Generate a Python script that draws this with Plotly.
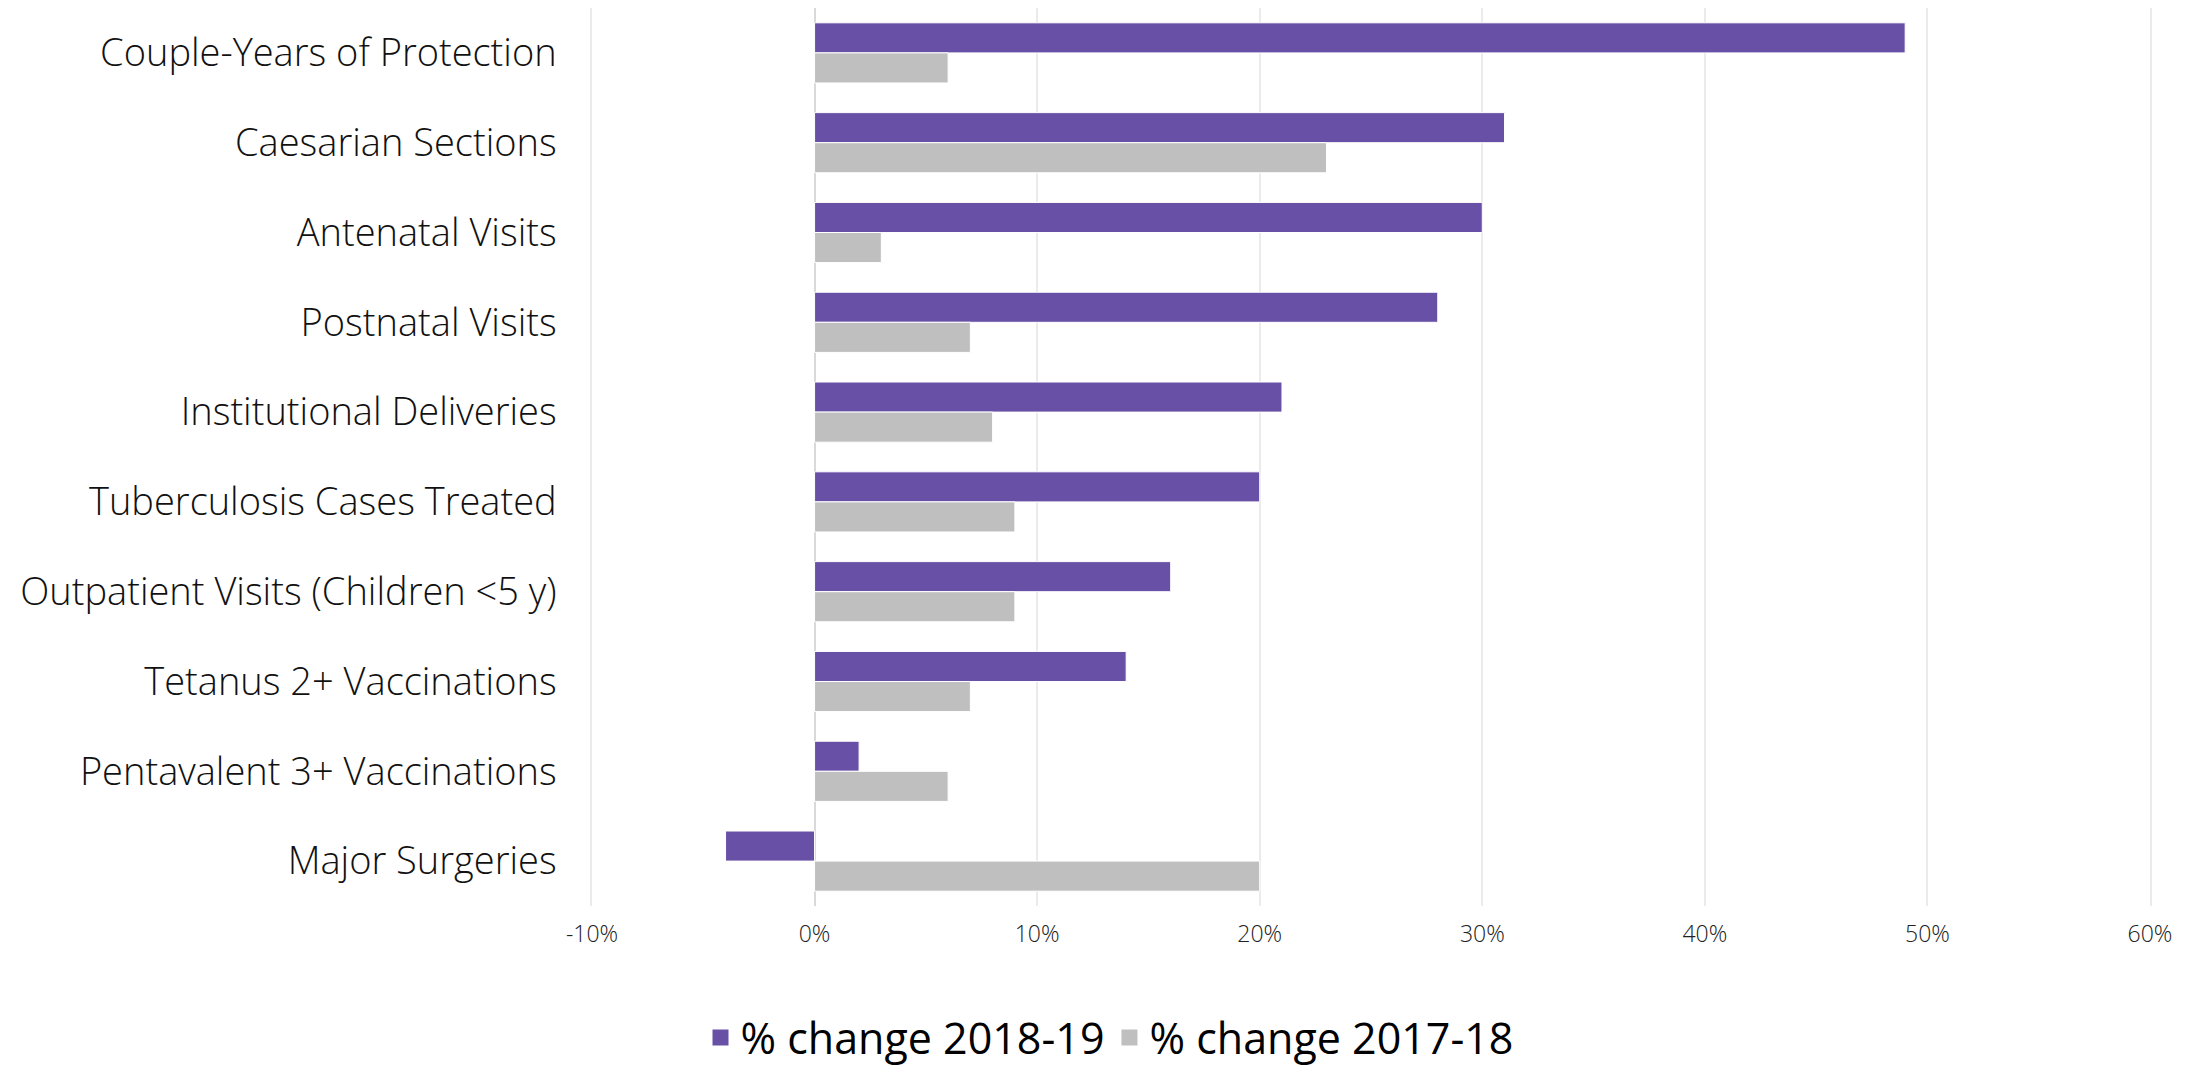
import plotly.graph_objects as go

categories = [
    "Couple-Years of Protection",
    "Caesarian Sections",
    "Antenatal Visits",
    "Postnatal Visits",
    "Institutional Deliveries",
    "Tuberculosis Cases Treated",
    "Outpatient Visits (Children <5 y)",
    "Tetanus 2+ Vaccinations",
    "Pentavalent 3+ Vaccinations",
    "Major Surgeries",
]
change_2018_19 = [0.49, 0.31, 0.30, 0.28, 0.21, 0.20, 0.16, 0.14, 0.02, -0.04]
change_2017_18 = [0.06, 0.23, 0.03, 0.07, 0.08, 0.09, 0.09, 0.07, 0.06, 0.20]
series_names = ["% change 2018-19", "% change 2017-18"]
tick_vals = [-0.1, 0, 0.1, 0.2, 0.3, 0.4, 0.5, 0.6]
tick_text = [f"{round(v * 100)}%" for v in tick_vals]

FONT = "Open Sans"
PURPLE = "#6950A7"
GREY = "#BFBFBF"
GRID = "#EBEBEB"

fig = go.Figure()
for vals, name, col in [(change_2018_19, series_names[0], PURPLE),
                        (change_2017_18, series_names[1], GREY)]:
    fig.add_trace(go.Bar(
        y=categories, x=vals, orientation="h", name=name, showlegend=False,
        marker=dict(color=col, line=dict(color="white", width=1)),
    ))
# legend entries with square swatches
for name, col in [(series_names[0], PURPLE), (series_names[1], GREY)]:
    fig.add_trace(go.Scatter(
        x=[None], y=[None], mode="markers", name=name,
        marker=dict(symbol="square", size=25, color=col),
    ))

fig.update_layout(
    width=2203, height=1068,
    paper_bgcolor="white", plot_bgcolor="white",
    margin=dict(l=584, r=61, t=0, b=170),
    barmode="group", bargap=0.33, bargroupgap=0,
    font=dict(family=FONT, color="#000000"),
    xaxis=dict(
        range=[-0.1, 0.6], tickvals=tick_vals, ticktext=tick_text,
        showgrid=True, gridcolor=GRID, gridwidth=1.5,
        zeroline=True, zerolinecolor="#D9D9D9", zerolinewidth=1.5,
        tickfont=dict(family=FONT, size=23, color="#222222", weight=300),
        ticks="", showline=False, automargin=False, ticklabelstandoff=12,
    ),
    yaxis=dict(
        autorange="reversed", showgrid=False, ticks="", automargin=False,
        tickfont=dict(family=FONT, size=38, color="#111111", weight=300),
        ticklabelstandoff=26,
        showline=True, mirror=True, linecolor=GRID, linewidth=1.5,
    ),
    legend=dict(
        orientation="h", xref="container", yref="container",
        x=0.5, xanchor="center", y=0.036, yanchor="middle",
        font=dict(family=FONT, size=43, color="#000000"),
        itemwidth=30, tracegroupgap=0,
    ),
)

fig.write_html("out.html")
